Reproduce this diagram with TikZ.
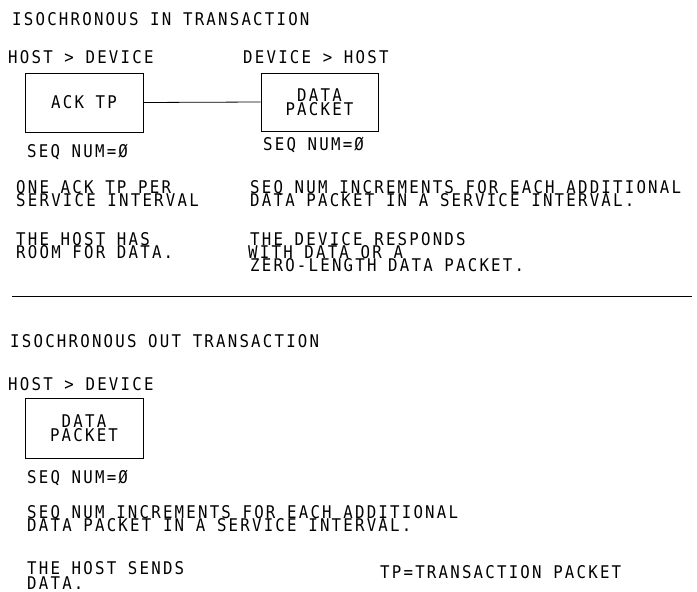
\documentclass[tikz,border=0pt]{standalone}
\usepackage{fontspec}
\setmainfont{DejaVu Sans Mono}[FakeStretch=0.9,LetterSpace=12.6]
\begin{document}
\begin{tikzpicture}[x=1pt,y=-1pt,
  txt/.style={anchor=base west,inner sep=0pt,font=\fontsize{17.5}{13}\selectfont},
  pbox/.style={draw,line width=0.8pt,inner sep=0pt,align=center,font=\fontsize{17.5}{13.5}\selectfont},
  wire/.style={line width=0.8pt}]
\useasboundingbox (0,0) rectangle (697,592);
% --- IN transaction
\node[txt] (t1) at (12,25) {ISOCHRONOUS IN TRANSACTION};
\node[txt] (hd1) at (8,63) {HOST > DEVICE};
\node[txt] (dh1) at (243,63) {DEVICE > HOST};
\node[pbox,minimum width=118pt,minimum height=59pt] (ack) at (84,102.5) {ACK TP};
\node[pbox,minimum width=117pt,minimum height=58pt] (dp1) at (319.5,102) {DATA\\PACKET};
\draw[wire] (ack.east) -- (dp1.west);
\node[txt] (sq1) at (27,157) {SEQ NUM=Ø};
\node[txt] (sq2) at (263,150) {SEQ NUM=Ø};
\node[txt] (a1) at (16,193) {ONE ACK TP PER};
\node[txt] (a2) at (16,206) {SERVICE INTERVAL};
\node[txt] (b1) at (250,193) {SEQ NUM INCREMENTS FOR EACH ADDITIONAL};
\node[txt] (b2) at (250,206) {DATA PACKET IN A SERVICE INTERVAL.};
\node[txt] (c1) at (16,245) {THE HOST HAS};
\node[txt] (c2) at (16,258) {ROOM FOR DATA.};
\node[txt] (d1) at (250,245) {THE DEVICE RESPONDS};
\node[txt] (d2) at (248,258) {WITH DATA OR A};
\node[txt] (d3) at (250,271) {ZERO-LENGTH DATA PACKET.};
% --- rule
\coordinate (r1) at (12,296);
\coordinate (r2) at (692,296);
\draw[wire] (r1) -- (r2);
% --- OUT transaction
\node[txt] (t2) at (10,347) {ISOCHRONOUS OUT TRANSACTION};
\node[txt] (hd2) at (8,390) {HOST > DEVICE};
\node[pbox,minimum width=118pt,minimum height=60pt] (dp2) at (84,428) {DATA\\PACKET};
\node[txt] (sq3) at (27,483) {SEQ NUM=Ø};
\node[txt] (e1) at (27,518) {SEQ NUM INCREMENTS FOR EACH ADDITIONAL};
\node[txt] (e2) at (27,531) {DATA PACKET IN A SERVICE INTERVAL.};
\node[txt] (f1) at (27,574) {THE HOST SENDS};
\node[txt] (f2) at (27,589) {DATA.};
\node[txt] (tp) at (380,578) {TP=TRANSACTION PACKET};
\end{tikzpicture}
\end{document}
